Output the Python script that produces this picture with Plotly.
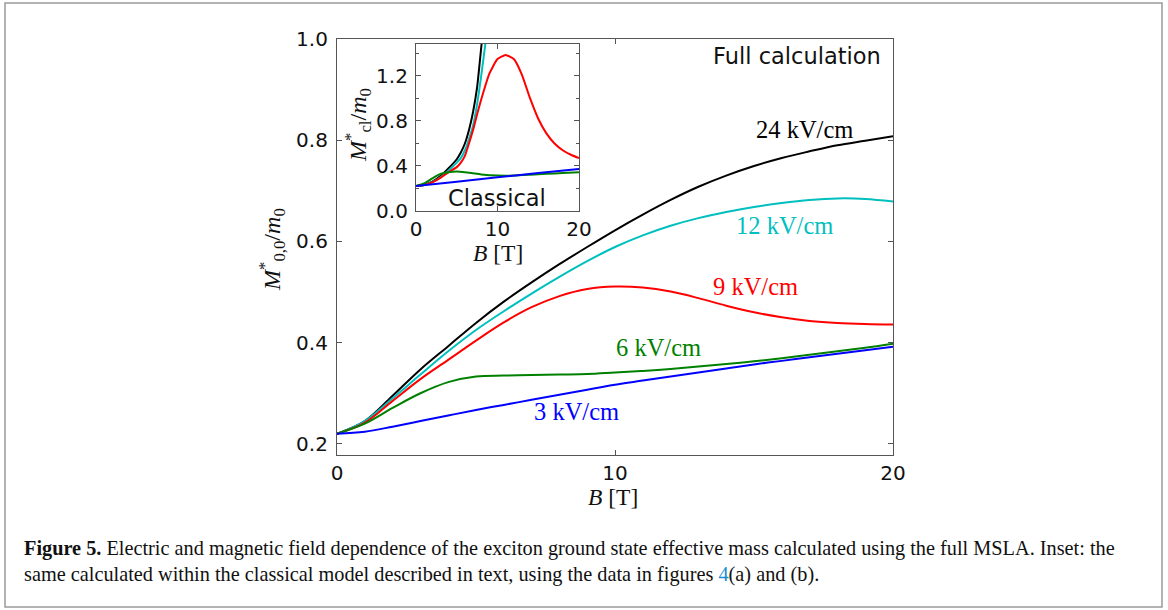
import plotly.graph_objects as go

# ---------------- data ----------------
B_main = [0, 1, 2, 3, 4, 5, 6, 7, 8, 9, 10, 11, 12, 13, 14, 15, 16, 17, 18, 19, 20]
M_24 = [0.220, 0.245, 0.295, 0.347, 0.393, 0.439, 0.481, 0.519, 0.555, 0.589, 0.622,
        0.653, 0.682, 0.708, 0.730, 0.749, 0.765, 0.778, 0.790, 0.799, 0.808]
M_12 = [0.220, 0.245, 0.290, 0.337, 0.383, 0.425, 0.462, 0.497, 0.530, 0.561, 0.589,
        0.612, 0.631, 0.646, 0.658, 0.668, 0.676, 0.682, 0.685, 0.684, 0.679]
M_9 = [0.220, 0.242, 0.285, 0.328, 0.366, 0.404, 0.440, 0.470, 0.492, 0.506, 0.511,
       0.509, 0.501, 0.488, 0.473, 0.460, 0.450, 0.443, 0.439, 0.437, 0.436]
M_6 = [0.220, 0.240, 0.271, 0.300, 0.322, 0.333, 0.335, 0.336, 0.337, 0.338, 0.341,
       0.344, 0.348, 0.353, 0.358, 0.363, 0.369, 0.376, 0.383, 0.390, 0.398]
M_3 = [0.220, 0.224, 0.234, 0.245, 0.256, 0.267, 0.277, 0.287, 0.297, 0.307, 0.317,
       0.325, 0.333, 0.341, 0.349, 0.357, 0.364, 0.371, 0.378, 0.385, 0.392]

B_cl_24 = [0, 1, 2, 3, 4, 5, 5.5, 6, 6.5, 7, 7.5, 8, 8.2]
Mcl_24 = [0.222, 0.232, 0.260, 0.310, 0.380, 0.460, 0.520, 0.600, 0.720, 0.880, 1.100, 1.450, 1.600]
B_cl_12 = [0, 1, 2, 3, 4, 5, 5.5, 6, 6.5, 7, 7.5, 8, 8.5, 8.7]
Mcl_12 = [0.222, 0.231, 0.257, 0.300, 0.360, 0.430, 0.470, 0.540, 0.640, 0.760, 0.950, 1.200, 1.480, 1.600]
B_cl_9 = [0, 1, 2, 3, 4, 5, 5.5, 6, 6.5, 7, 7.5, 8, 9, 10, 11, 12, 13, 14, 15, 16, 17, 18, 19, 20]
Mcl_9 = [0.222, 0.231, 0.255, 0.295, 0.345, 0.390, 0.430, 0.490, 0.600, 0.720, 0.860, 0.990,
         1.220, 1.350, 1.387, 1.350, 1.210, 1.000, 0.820, 0.690, 0.600, 0.540, 0.500, 0.470]
B_cl_6 = [0, 1, 2, 3, 4, 5, 6, 7, 8, 10, 12, 14, 16, 18, 20]
Mcl_6 = [0.222, 0.245, 0.290, 0.330, 0.345, 0.350, 0.345, 0.335, 0.325, 0.315, 0.315,
         0.322, 0.330, 0.337, 0.345]
B_cl_3 = [0, 5, 10, 15, 20]
Mcl_3 = [0.222, 0.260, 0.300, 0.337, 0.373]

series_labels = ["24 kV/cm", "12 kV/cm", "9 kV/cm", "6 kV/cm", "3 kV/cm"]
series_colors = ["#000000", "#00bfbf", "#ff0000", "#008000", "#0000ff"]
label_B = [16.8, 16.1, 15.07, 11.55, 8.6]
label_M = [0.822, 0.632, 0.511, 0.39, 0.263]

main_xticks = [0, 10, 20]
main_yticks = [0.2, 0.4, 0.6, 0.8, 1.0]
inset_xticks = [0, 10, 20]
inset_yticks = [0.0, 0.4, 0.8, 1.2]

caption_1 = ("<b>Figure 5.</b> Electric and magnetic field dependence of the exciton ground state "
             "effective mass calculated using the full MSLA. Inset: the")
caption_2 = ("same calculated within the classical model described in text, using the data in figures "
             "<span style='color:#1b8fd0'>4</span>(a) and (b).")

# ---------------- figure ----------------
W, H = 1168, 610
L, R, T, Bm = 337, 893, 39, 455


def px(x):
    return (x - L) / (R - L)


def py(y):
    return (Bm - y) / (Bm - T)


fig = go.Figure()

main_sets = [M_24, M_12, M_9, M_6, M_3]
for vals, col, name in zip(main_sets, series_colors, series_labels):
    fig.add_trace(go.Scatter(x=B_main, y=vals, mode="lines", name=name,
                             line=dict(color=col, width=2, shape="spline", smoothing=1.0),
                             xaxis="x", yaxis="y", showlegend=False))

inset_sets = [(B_cl_24, Mcl_24), (B_cl_12, Mcl_12), (B_cl_9, Mcl_9), (B_cl_6, Mcl_6), (B_cl_3, Mcl_3)]
for (bx, vals), col, name in zip(inset_sets, series_colors, series_labels):
    fig.add_trace(go.Scatter(x=bx, y=vals, mode="lines", name=name + " (classical)",
                             line=dict(color=col, width=2, shape="spline", smoothing=0.5),
                             xaxis="x2", yaxis="y2", showlegend=False))

axis_common = dict(showgrid=False, zeroline=False, showline=True, linecolor="#555555",
                   linewidth=1.2, mirror="ticks", ticks="inside", ticklen=5, tickcolor="#555555",
                   tickfont=dict(family="DejaVu Sans", size=20, color="#111111"))

fig.update_layout(
    width=W, height=H,
    margin=dict(l=L, r=W - R, t=T, b=H - Bm, pad=0),
    paper_bgcolor="white", plot_bgcolor="white",
    xaxis=dict(domain=[0, 1], range=[0, 20], tickvals=main_xticks,
               ticktext=[str(v) for v in main_xticks], anchor="y", **axis_common),
    yaxis=dict(domain=[0, 1], range=[0.178, 1.0], tickvals=main_yticks,
               ticktext=["%.1f" % v for v in main_yticks], anchor="x",
               ticklabelstandoff=4, **axis_common),
    xaxis2=dict(domain=[px(416), px(579)], range=[0, 20], tickvals=inset_xticks,
                ticktext=[str(v) for v in inset_xticks], anchor="y2",
                **axis_common),
    yaxis2=dict(domain=[py(211), py(44)], range=[0, 1.484], tickvals=inset_yticks,
                ticktext=["%.1f" % v for v in inset_yticks], anchor="x2",
                minor=dict(tickvals=[0.2, 0.6, 1.0, 1.4], ticks="inside", ticklen=3,
                           tickcolor="#555555"),
                ticklabelstandoff=3, **axis_common),
)

serif = "Liberation Serif"
ink = "#111111"
ann = []
for name, col, bx, my in zip(series_labels, series_colors, label_B, label_M):
    ann.append(dict(x=bx, y=my, xref="x", yref="y", text=name, showarrow=False,
                    xanchor="center", yanchor="middle",
                    font=dict(family=serif, size=24.5, color=col)))

ann.append(dict(x=19.64, y=0.966, xref="x", yref="y", text="Full calculation", showarrow=False,
                xanchor="right", yanchor="middle",
                font=dict(family="DejaVu Sans", size=22.5, color=ink)))
ann.append(dict(x=9.9, y=0.115, xref="x2", yref="y2", text="Classical", showarrow=False,
                xanchor="center", yanchor="middle",
                font=dict(family="DejaVu Sans", size=22.5, color=ink)))

# axis titles
ann.append(dict(x=px(613), y=py(497), xref="paper", yref="paper", text="<i>B</i> [T]",
                showarrow=False, xanchor="center", yanchor="middle",
                font=dict(family=serif, size=23.5, color=ink)))
ann.append(dict(x=px(272), y=py(250), xref="paper", yref="paper", textangle=-90,
                text="<i>M</i><sup>*</sup><sub>0,0</sub>/<i>m</i><sub>0</sub>",
                showarrow=False, xanchor="center", yanchor="middle",
                font=dict(family=serif, size=24, color=ink)))
ann.append(dict(x=px(498), y=py(253), xref="paper", yref="paper", text="<i>B</i> [T]",
                showarrow=False, xanchor="center", yanchor="middle",
                font=dict(family=serif, size=23.5, color=ink)))
ann.append(dict(x=px(358), y=py(125), xref="paper", yref="paper", textangle=-90,
                text="<i>M</i><sup>*</sup><sub>cl</sub>/<i>m</i><sub>0</sub>",
                showarrow=False, xanchor="center", yanchor="middle",
                font=dict(family=serif, size=24, color=ink)))

# caption
ann.append(dict(x=px(22), y=py(548), xref="paper", yref="paper", text=caption_1,
                xanchor="left", yanchor="middle",
                showarrow=False, font=dict(family=serif, size=20.3, color=ink)))
ann.append(dict(x=px(22), y=py(574), xref="paper", yref="paper", text=caption_2,
                xanchor="left", yanchor="middle",
                showarrow=False, font=dict(family=serif, size=20.3, color=ink)))

fig.update_layout(annotations=ann)

fig.add_shape(type="rect", xref="paper", yref="paper",
              x0=px(5), x1=px(1162), y0=py(607), y1=py(3),
              line=dict(color="#9a9a9a", width=1.5), fillcolor="rgba(0,0,0,0)", layer="below")

fig.write_html("out.html", config={"displayModeBar": False},
               post_script="document.body.style.margin='0px';document.body.style.overflow='hidden';")
